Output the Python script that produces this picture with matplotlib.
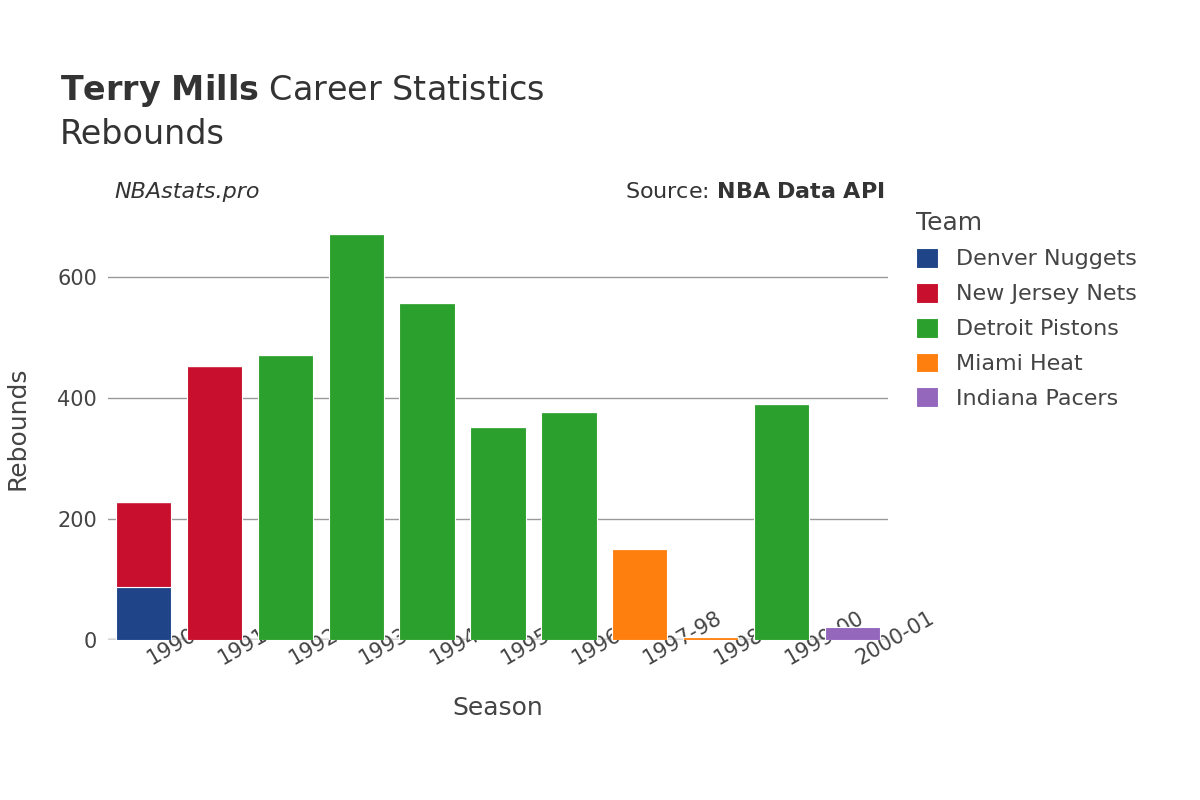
import matplotlib
matplotlib.use("Agg")
import matplotlib.pyplot as plt
import numpy as np

seasons = ["1990-91","1991-92","1992-93","1993-94","1994-95","1995-96","1996-97","1997-98","1998-99","1999-00","2000-01"]
teams = ["Denver Nuggets","New Jersey Nets","Detroit Pistons","Miami Heat","Indiana Pacers"]
colors = ["#1f4488","#c8102e","#2ca02c","#ff7f0e","#9467bd"]
denver  = [87,0,0,0,0,0,0,0,0,0,0]
nets    = [141,452,0,0,0,0,0,0,0,0,0]
pistons = [0,0,471,671,557,351,376,0,0,389,0]
heat    = [0,0,0,0,0,0,0,151,5,0,0]
pacers  = [0,0,0,0,0,0,0,0,0,0,21]
series = [denver, nets, pistons, heat, pacers]

fig = plt.figure(figsize=(12,8), dpi=100)
ax = fig.add_axes([0.09, 0.2, 0.65, 0.53])
x = np.arange(len(seasons))
bottom = np.zeros(len(seasons))
for name, vals, c in zip(teams, series, colors):
    v = np.array(vals, dtype=float)
    ax.bar(x, v, 0.78, bottom=bottom, color=c, label=name, edgecolor="white", linewidth=0.8)
    bottom += v
ax.set_xlim(-0.5, len(seasons)-0.5)
ax.set_ylim(0, 700)
ax.set_yticks([0,200,400,600])
ax.grid(axis="y", color="#999999", linewidth=1)
ax.set_axisbelow(True)
for s in ax.spines.values():
    s.set_visible(False)
ax.axhline(0, color="#e6e6e6", linewidth=3, zorder=0)
ax.tick_params(length=0, labelsize=15, colors="#444444", pad=8)
ax.set_xticks(x)
ax.set_xticklabels(seasons, rotation=30, ha="left", rotation_mode="anchor")
ax.set_xlabel("Season", fontsize=18, color="#444444", labelpad=20)
ax.set_ylabel("Rebounds", fontsize=18, color="#444444", labelpad=20)

fig.text(0.05, 0.875, r"$\bf{Terry\ Mills}$ Career Statistics", fontsize=24, color="#333333")
fig.text(0.05, 0.82, "Rebounds", fontsize=24, color="#333333")
fig.text(0.095, 0.752, "NBAstats.pro", fontsize=16, style="italic", color="#333333")
fig.text(0.737, 0.752, r"Source: $\bf{NBA\ Data\ API}$", fontsize=16, color="#333333", ha="right")
leg = ax.legend(title="Team", loc="upper left", bbox_to_anchor=(1.01, 1.06), frameon=False,
                fontsize=16, title_fontsize=18, handlelength=1.0, handleheight=1.0, labelspacing=0.6)
leg._legend_box.align = "left"
for t in leg.get_texts():
    t.set_color("#444444")
leg.get_title().set_color("#444444")
fig.savefig("out.png")
